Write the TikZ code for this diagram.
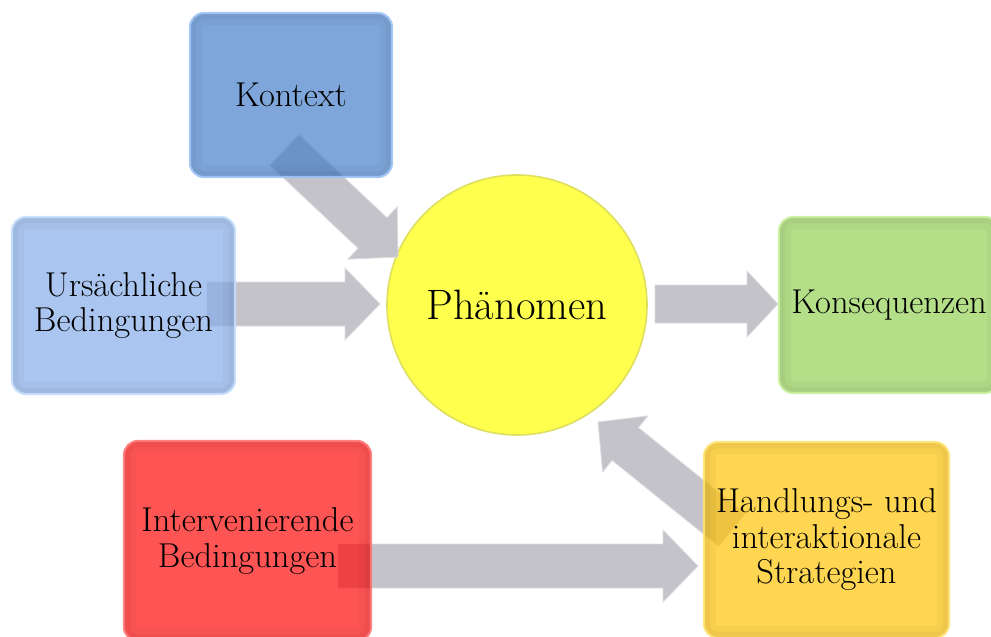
\documentclass[tikz,border=0pt]{standalone}
\usetikzlibrary{calc}

\definecolor{kontextfill}{RGB}{72,128,202}
\definecolor{kontextrim}{RGB}{160,196,244}
\definecolor{ursfill}{RGB}{134,173,233}
\definecolor{ursrim}{RGB}{196,220,252}
\definecolor{konsfill}{RGB}{148,208,86}
\definecolor{konsrim}{RGB}{200,240,160}
\definecolor{intfill}{RGB}{255,12,12}
\definecolor{intrim}{RGB}{255,120,120}
\definecolor{handfill}{RGB}{255,196,8}
\definecolor{handrim}{RGB}{255,228,120}
\definecolor{phenfill}{RGB}{255,255,78}
\definecolor{phenrim}{RGB}{222,222,96}
\definecolor{arrowfill}{RGB}{196,195,201}
\definecolor{arrowedge}{RGB}{220,219,224}

\newcommand{\boxfont}{\fontsize{34.5}{35.5}\selectfont}
\newcommand{\phenfont}{\fontsize{42.5}{46}\selectfont}

% block arrow from tail coordinate #1 to tip coordinate #2;
% #3 half shaft width, #4 half head width, #5 head length
\newcommand{\blockarrow}[5]{%
  \coordinate (#1-base) at ($(#2)!#5!(#1)$);
  \path[arrowbody]
    ($(#1)!#3!90:(#2)$) -- ($(#1-base)!#3!90:(#2)$) -- ($(#1-base)!#4!90:(#2)$)
    -- (#2)
    -- ($(#1-base)!#4!-90:(#2)$) -- ($(#1-base)!#3!-90:(#2)$) -- ($(#1)!#3!-90:(#2)$)
    -- cycle;
}

\pgfdeclarelayer{base}
\pgfdeclarelayer{background}
\pgfsetlayers{base,background,main}

\begin{document}
\begin{tikzpicture}[x=1pt,y=-1pt,
  card/.style={rectangle, rounded corners=14pt, inner sep=0pt, align=center,
    font=\boxfont, line width=2.2pt, fill opacity=0.7, draw opacity=0.9, text opacity=1,
    path picture={
      \draw[black, opacity=0.03, line width=24pt, rounded corners=14pt]
        (path picture bounding box.south west) rectangle (path picture bounding box.north east);
      \draw[black, opacity=0.035, line width=12pt, rounded corners=14pt]
        (path picture bounding box.south west) rectangle (path picture bounding box.north east);}},
  arrowbody/.style={fill=arrowfill, draw=arrowedge, line width=0.8pt, line join=miter},
]
\useasboundingbox (0,0) rectangle (991,637);

% boxes
\node[card, fill=kontextfill, draw=kontextrim, minimum width=202pt, minimum height=164pt]
  (kontext) at (291,95) {Kontext};
\node[card, fill=ursfill, draw=ursrim, minimum width=223pt, minimum height=177pt]
  (urs) at (123.5,305.5) {Ursächliche\\Bedingungen};
\node[card, fill=konsfill, draw=konsrim, minimum width=220pt, minimum height=176pt]
  (kons) at (889,305) {Konsequenzen};
\node[card, fill=intfill, draw=intrim, minimum width=247pt, minimum height=200pt]
  (inter) at (247.5,541) {Intervenierende\\Bedingungen};
\node[card, fill=handfill, draw=handrim, minimum width=245pt, minimum height=196pt]
  (hand) at (826.5,540) {Handlungs- und\\interaktionale\\Strategien};

% central phenomenon
\begin{pgfonlayer}{base}
\node[circle, minimum size=260pt, inner sep=0pt, fill=phenfill, draw=phenrim,
  line width=1.6pt, font=\phenfont] (phen) at (517,305) {Phänomen};
\end{pgfonlayer}

% arrow end points
\coordinate (kontext-tail) at (284.5,150);
\coordinate (kontext-tip)  at (398,257);
\coordinate (urs-tail)     at (207,304);
\coordinate (urs-tip)      at (380,304);
\coordinate (phen-tail)    at (655,304);
\coordinate (phen-tip)     at (778,304);
\coordinate (inter-tail)   at (338,566);
\coordinate (inter-tip)    at (698,566);
\coordinate (hand-tail)    at (732,530);
\coordinate (hand-tip)     at (598,422);

\begin{pgfonlayer}{background}
  \blockarrow{kontext-tail}{kontext-tip}{21pt}{36pt}{35pt}
  \blockarrow{urs-tail}{urs-tip}{22pt}{36pt}{35pt}
  \blockarrow{phen-tail}{phen-tip}{19pt}{33pt}{31pt}
  \blockarrow{inter-tail}{inter-tip}{22pt}{36pt}{35pt}
  \blockarrow{hand-tail}{hand-tip}{21pt}{36pt}{35pt}
\end{pgfonlayer}
\end{tikzpicture}
\end{document}
